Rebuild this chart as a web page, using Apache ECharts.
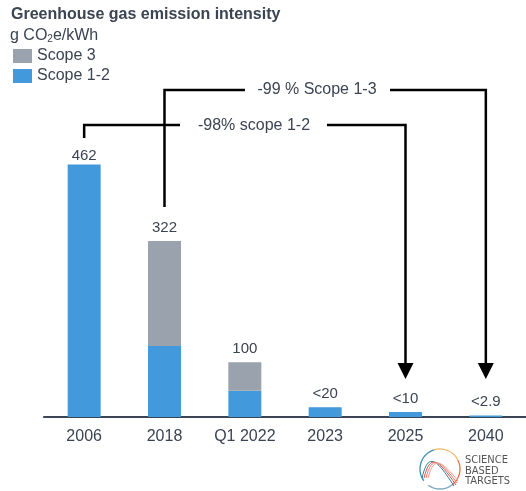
<!DOCTYPE html>
<html>
<head>
<meta charset="utf-8">
<script src="https://cdn.jsdelivr.net/npm/echarts@6/dist/echarts.min.js"></script>
<style>
  html, body { margin: 0; padding: 0; background: #fff; }
  #chart { width: 526px; height: 491px; }
</style>
</head>
<body>
<div id="chart"></div>
<script>
// chart data
var categories = ['2006', '2018', 'Q1 2022', '2023', '2025', '2040'];
var scope12 = [462, 130, 48, 18, 9, 2.9];
var scope3 = [null, 192, 52, null, null, null];
var barLabels = ['462', '322', '100', '<20', '<10', '<2.9'];

var BLUE = '#4299db';
var GREY = '#9aa3ad';
var TEXT = '#3b4452';
var FONT = '"Liberation Sans", Arial, sans-serif';

var chart = echarts.init(document.getElementById('chart'));

var labelStyle = {
  position: 'top',
  distance: 6,
  fontSize: 15,
  fontFamily: FONT,
  color: TEXT,
  formatter: function (p) { return barLabels[p.dataIndex]; }
};

var option = {
  animation: false,
  title: [
    {
      text: 'Greenhouse gas emission intensity',
      left: 11, top: 7, padding: 0,
      textStyle: { fontSize: 16, fontWeight: 'bold', color: TEXT, fontFamily: FONT }
    },
    {
      text: '{a|g CO}{s|2}{a|e/kWh}',
      left: 10, top: 27, padding: 0,
      textStyle: {
        fontWeight: 'normal',
        rich: {
          a: { fontSize: 16, fontWeight: 'normal', color: TEXT, fontFamily: FONT },
          s: { fontSize: 10, fontWeight: 'normal', color: TEXT, fontFamily: FONT, padding: [7, 0, 0, 0] }
        }
      }
    }
  ],
  legend: {
    data: ['Scope 3', 'Scope 1-2'],
    orient: 'vertical',
    left: 13, top: 48, padding: 0,
    icon: 'rect',
    itemWidth: 19, itemHeight: 14, itemGap: 4,
    textStyle: { fontSize: 16, color: TEXT, fontFamily: FONT }
  },
  grid: { left: 44, top: 100, width: 486, bottom: 74 },
  xAxis: {
    type: 'category',
    data: categories,
    axisLine: { lineStyle: { color: TEXT, width: 2 } },
    axisTick: { show: false },
    axisLabel: { fontSize: 16, color: TEXT, fontFamily: FONT, margin: 12 }
  },
  yAxis: { type: 'value', min: 0, max: 580, show: false, splitLine: { show: false } },
  series: [
    {
      name: 'Scope 1-2', type: 'bar', stack: 'total', barWidth: 33,
      itemStyle: { color: BLUE },
      label: labelStyle,
      data: scope12.map(function (v, i) {
        return { value: v, label: { show: scope3[i] == null, distance: i === 0 ? 1 : 6 } };
      })
    },
    {
      name: 'Scope 3', type: 'bar', stack: 'total', barWidth: 33,
      itemStyle: { color: GREY },
      label: Object.assign({ show: true }, labelStyle),
      data: scope3
    }
  ]
};
chart.setOption(option);

// reduction brackets, anchored to the category centres
var xs = categories.map(function (c) { return chart.convertToPixel({ xAxisIndex: 0 }, c); });
var ln = { stroke: '#000', lineWidth: 2.5, fill: null };

function arrowHead(x, tipY) {
  return { type: 'polygon', shape: { points: [[x - 8, tipY - 16], [x + 8, tipY - 16], [x, tipY]] }, style: { fill: '#000' } };
}

var graphics = [
  { type: 'polyline', shape: { points: [[xs[0], 138], [xs[0], 125], [180, 125]] }, style: ln },
  { type: 'polyline', shape: { points: [[327, 125], [xs[4], 125], [xs[4], 366]] }, style: ln },
  arrowHead(xs[4], 379),
  { type: 'text', x: 254, y: 126, style: { text: '-98% scope 1-2', fontSize: 16, fontFamily: FONT, fill: TEXT, align: 'center', verticalAlign: 'middle' } },
  { type: 'polyline', shape: { points: [[xs[1], 207], [xs[1], 90], [245, 90]] }, style: ln },
  { type: 'polyline', shape: { points: [[390, 90], [xs[5], 90], [xs[5], 366]] }, style: ln },
  arrowHead(xs[5], 379),
  { type: 'text', x: 317, y: 90, style: { text: '-99 % Scope 1-3', fontSize: 16, fontFamily: FONT, fill: TEXT, align: 'center', verticalAlign: 'middle' } },

  // SBTi logo
  { type: 'arc', shape: { cx: 440, cy: 469, r: 20, startAngle: Math.PI * 0.8, endAngle: Math.PI * 1.4 }, style: { stroke: '#3e8fb0', lineWidth: 1.3, fill: null } },
  { type: 'arc', shape: { cx: 440, cy: 469, r: 20, startAngle: Math.PI * 1.4, endAngle: Math.PI * 1.85 }, style: { stroke: '#f2b766', lineWidth: 1.3, fill: null } },
  { type: 'arc', shape: { cx: 440, cy: 469, r: 20, startAngle: Math.PI * 1.85, endAngle: Math.PI * 2.3 }, style: { stroke: '#e8704a', lineWidth: 1.3, fill: null } },
  { type: 'arc', shape: { cx: 440, cy: 469, r: 20, startAngle: Math.PI * 0.3, endAngle: Math.PI * 0.7 }, style: { stroke: '#7fa9c0', lineWidth: 1.3, fill: null } },
  { type: 'bezierCurve', shape: { x1: 422, y1: 478, cpx1: 428, cpy1: 452, cpx2: 436, cpy2: 458, x2: 454, y2: 486 }, style: { stroke: '#2c7fa0', lineWidth: 1, fill: null } },
  { type: 'bezierCurve', shape: { x1: 424, y1: 478, cpx1: 430, cpy1: 453, cpx2: 438, cpy2: 459, x2: 456, y2: 485 }, style: { stroke: '#d9534a', lineWidth: 1, fill: null } },
  { type: 'bezierCurve', shape: { x1: 426, y1: 478, cpx1: 432, cpy1: 454, cpx2: 440, cpy2: 460, x2: 457, y2: 483 }, style: { stroke: '#e77a6a', lineWidth: 1, fill: null } },
  { type: 'bezierCurve', shape: { x1: 428, y1: 478, cpx1: 434, cpy1: 455, cpx2: 442, cpy2: 461, x2: 458, y2: 481 }, style: { stroke: '#f0a090', lineWidth: 1, fill: null } },
  { type: 'text', x: 465, y: 455, style: { text: 'SCIENCE\nBASED\nTARGETS', fontSize: 11, lineHeight: 10.5, fontFamily: '"Liberation Sans Narrow", "DejaVu Sans Condensed", Arial, sans-serif', fill: '#555' } }
];

chart.setOption({ graphic: graphics });
</script>
</body>
</html>
